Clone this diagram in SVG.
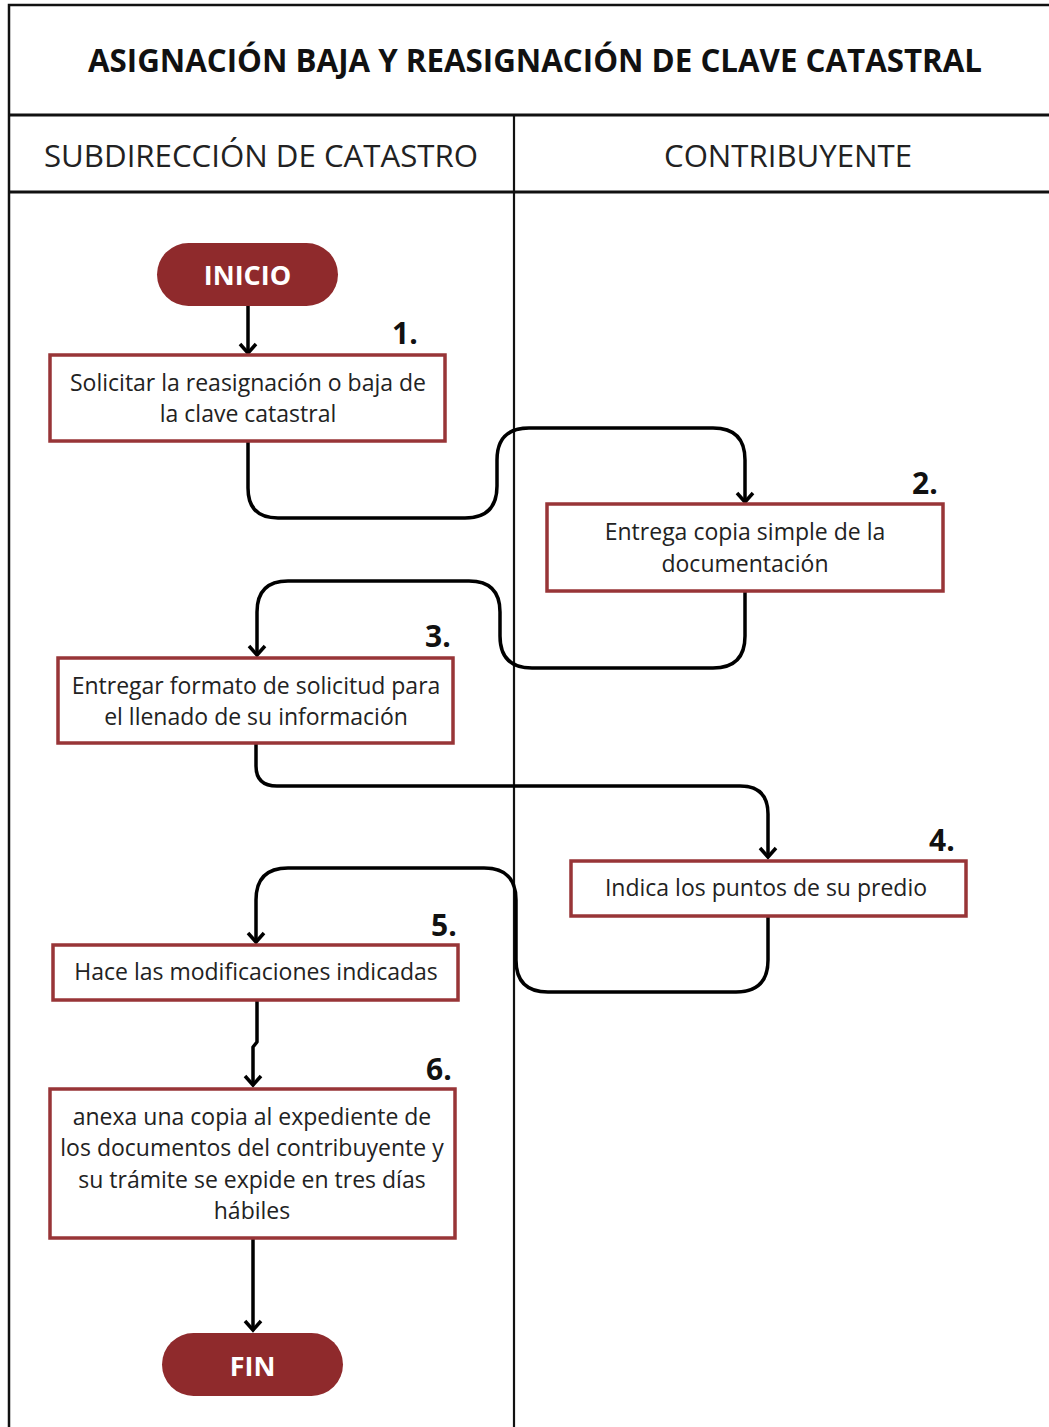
<svg xmlns="http://www.w3.org/2000/svg" width="1049" height="1427" viewBox="0 0 1049 1427">
<defs>
<style>
.frame{stroke:#111;fill:none}
.box{fill:#fff;stroke:#983537;stroke-width:3.5}
.pill{fill:#8f2a2c}
.pilltxt{font-family:"Open Sans","Noto Sans",sans-serif;font-weight:700;font-size:27px;fill:#fff;text-anchor:middle}
.txt{font-family:"Open Sans","Noto Sans",sans-serif;font-size:23px;fill:#222;text-anchor:middle}
.num{font-family:"Open Sans","Noto Sans",sans-serif;font-weight:700;font-size:30px;fill:#111}
.title{font-family:"Open Sans","Noto Sans",sans-serif;font-weight:700;font-size:33px;fill:#111;text-anchor:middle}
.head{font-family:"Open Sans","Noto Sans",sans-serif;font-size:31px;fill:#222;text-anchor:middle}
.conn{fill:none;stroke:#000;stroke-width:3.5;stroke-linejoin:round}
</style>
<marker id="arr" markerUnits="userSpaceOnUse" markerWidth="24" markerHeight="24" refX="12" refY="12" orient="auto">
<path d="M3,4 L12,12 L3,20" fill="none" stroke="#000" stroke-width="3.5"/>
</marker>
</defs>
<rect width="1049" height="1427" fill="#fff"/>
<g id="frame">
<path class="frame" stroke-width="2.5" d="M9,1427 V5 H1049"/>
<line class="frame" stroke-width="3" x1="9" y1="115" x2="1049" y2="115"/>
<line class="frame" stroke-width="3" x1="9" y1="192" x2="1049" y2="192"/>
<line class="frame" stroke-width="2.2" x1="514" y1="115" x2="514" y2="1427"/>
<text class="title" x="535" y="72" textLength="894" lengthAdjust="spacingAndGlyphs">ASIGNACIÓN BAJA Y REASIGNACIÓN DE CLAVE CATASTRAL</text>
<text class="head" x="261" y="167" textLength="434" lengthAdjust="spacingAndGlyphs">SUBDIRECCIÓN DE CATASTRO</text>
<text class="head" x="788" y="167" textLength="248" lengthAdjust="spacingAndGlyphs">CONTRIBUYENTE</text>
</g>
<g id="connectors">
<path class="conn" marker-end="url(#arr)" d="M248,306 V353"/>
<path class="conn" marker-end="url(#arr)" d="M248,441 V488 Q248,518 278,518 H465 Q497,518 497,486 V460 Q497,428 529,428 H713 Q745,428 745,460 V502"/>
<path class="conn" marker-end="url(#arr)" d="M745,592 V636 Q745,668 713,668 H532 Q500,668 500,636 V612 Q500,581 469,581 H288 Q257,581 257,612 V655"/>
<path class="conn" marker-end="url(#arr)" d="M256,743 V766 Q256,786 277,786 H740 Q768,786 768,814 V857"/>
<path class="conn" marker-end="url(#arr)" d="M768,916 V960 Q768,992 736,992 H548 Q516,992 516,960 V900 Q516,868 484,868 H288 Q256,868 256,900 V942"/>
<path class="conn" marker-end="url(#arr)" d="M257,1001 V1042 L253,1047 V1085"/>
<path class="conn" marker-end="url(#arr)" d="M253,1238 V1330"/>
</g>
<g id="inicio">
<rect class="pill" x="157" y="243" width="181" height="63" rx="31.5"/>
<text class="pilltxt" x="247.5" y="284.5">INICIO</text>
</g>
<g id="step1">
<rect class="box" x="50" y="355" width="395" height="86"/>
<text class="txt" x="248" y="391">Solicitar la reasignación o baja de</text>
<text class="txt" x="248" y="422">la clave catastral</text>
<text class="num" x="392" y="344">1.</text>
</g>
<g id="step2">
<rect class="box" x="547" y="504" width="396" height="87"/>
<text class="txt" x="745" y="540">Entrega copia simple de la</text>
<text class="txt" x="745" y="572">documentación</text>
<text class="num" x="912" y="494">2.</text>
</g>
<g id="step3">
<rect class="box" x="58" y="658" width="395" height="85"/>
<text class="txt" x="256" y="694">Entregar formato de solicitud para</text>
<text class="txt" x="256" y="725">el llenado de su información</text>
<text class="num" x="425" y="647">3.</text>
</g>
<g id="step4">
<rect class="box" x="571" y="861" width="395" height="55"/>
<text class="txt" x="766" y="896">Indica los puntos de su predio</text>
<text class="num" x="929" y="851">4.</text>
</g>
<g id="step5">
<rect class="box" x="53" y="945" width="405" height="55"/>
<text class="txt" x="256" y="980">Hace las modificaciones indicadas</text>
<text class="num" x="431" y="936">5.</text>
</g>
<g id="step6">
<rect class="box" x="50" y="1089" width="405" height="149"/>
<text class="txt" x="252" y="1125">anexa una copia al expediente de</text>
<text class="txt" x="252" y="1156">los documentos del contribuyente y</text>
<text class="txt" x="252" y="1188">su trámite se expide en tres días</text>
<text class="txt" x="252" y="1219">hábiles</text>
<text class="num" x="426" y="1080">6.</text>
</g>
<g id="fin">
<rect class="pill" x="162" y="1333" width="181" height="63" rx="31.5"/>
<text class="pilltxt" x="252.5" y="1375.5">FIN</text>
</g>
</svg>
